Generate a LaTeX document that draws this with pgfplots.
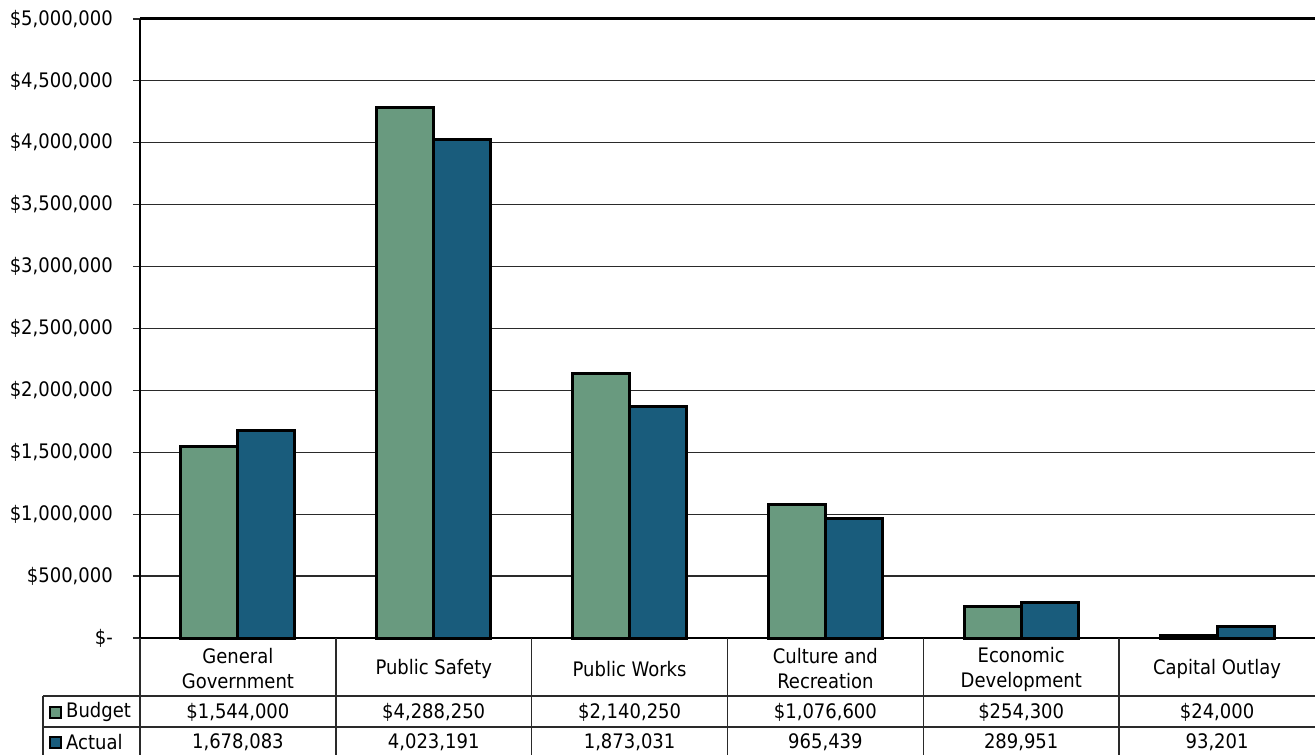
\documentclass[border=0pt]{standalone}
\usepackage{pgfplots}
\pgfplotsset{compat=1.18}
\usepackage{fontspec}
\setmainfont{DejaVu Sans Condensed}
\definecolor{budget}{HTML}{699A7F}
\definecolor{actual}{HTML}{195C7C}
\definecolor{gridc}{HTML}{2A2A2A}
\newcommand\f{\fontsize{20}{25}\selectfont}
\begin{document}
\begin{tikzpicture}[x=1pt,y=1pt]
\useasboundingbox (-140,-117) rectangle (1175,638);
\begin{axis}[
  at={(0,0)}, anchor=south west, scale only axis,
  width=1175pt, height=619pt,
  xmin=-0.5, xmax=5.5, ymin=0, ymax=5000000,
  ybar=0pt, bar width=57pt,
  axis lines*=left,
  axis line style={line width=2.2pt, black},
  clip=false,
  ytick={0,500000,1000000,1500000,2000000,2500000,3000000,3500000,4000000,4500000,5000000},
  yticklabels={{\$-\hspace{6pt}},{\$500,000},{\$1,000,000},{\$1,500,000},{\$2,000,000},{\$2,500,000},{\$3,000,000},{\$3,500,000},{\$4,000,000},{\$4,500,000},{\$5,000,000}},
  scaled y ticks=false,
  ymajorgrids,
  major grid style={gridc, line width=1.2pt},
  ytick style={gridc, line width=1.2pt},
  tick align=outside, major tick length=7pt,
  xtick={0,1,2,3,4,5},
  xticklabels={{General\\Government},{Public Safety},{Public Works},{Culture and\\Recreation},{Economic\\Development},{Capital Outlay}},
  x tick style={draw=none},
  tick label style={font=\f},
  xticklabel style={anchor=center, align=center, yshift=-24pt},
  yticklabel style={anchor=east, inner sep=0pt, xshift=-20pt},
]
\draw[line width=3pt, black] (axis cs:-0.5,5000000) -- (axis cs:5.5,5000000);
\addplot[fill=budget, draw=black, line width=3pt] coordinates {(0,1544000) (1,4288250) (2,2140250) (3,1076600) (4,254300) (5,24000)};
\addplot[fill=actual, draw=black, line width=3pt] coordinates {(0,1678083) (1,4023191) (2,1873031) (3,965439) (4,289951) (5,93201)};
\end{axis}
% data table
\draw[gridc, line width=1.5pt] (-97,-58) -- (1175,-58);
\draw[gridc, line width=1.5pt] (-97,-89) -- (1175,-89);
\draw[gridc, line width=1.5pt] (-97,-58) -- (-97,-117);
\draw[gridc, line width=1.5pt] (0,0) -- (0,-117);
\foreach \k in {1,...,5} {\draw[gridc, line width=1.5pt] ({195.83*\k},0) -- ({195.83*\k},-117);}
\filldraw[fill=budget, draw=black, line width=1.5pt] (-90,-80) rectangle (-79,-69);
\filldraw[fill=actual, draw=black, line width=1.5pt] (-90,-110) rectangle (-79,-99);
\node[font=\f, anchor=west, inner sep=0pt] at (-74,-74) {Budget};
\node[font=\f, anchor=west, inner sep=0pt] at (-74,-104) {Actual};
\node[font=\f] at (97.9,-74) {\$1,544,000};
\node[font=\f] at (293.7,-74) {\$4,288,250};
\node[font=\f] at (489.6,-74) {\$2,140,250};
\node[font=\f] at (685.4,-74) {\$1,076,600};
\node[font=\f] at (881.2,-74) {\$254,300};
\node[font=\f] at (1077.1,-74) {\$24,000};
\node[font=\f] at (97.9,-104) {1,678,083};
\node[font=\f] at (293.7,-104) {4,023,191};
\node[font=\f] at (489.6,-104) {1,873,031};
\node[font=\f] at (685.4,-104) {965,439};
\node[font=\f] at (881.2,-104) {289,951};
\node[font=\f] at (1077.1,-104) {93,201};
\end{tikzpicture}
\end{document}
